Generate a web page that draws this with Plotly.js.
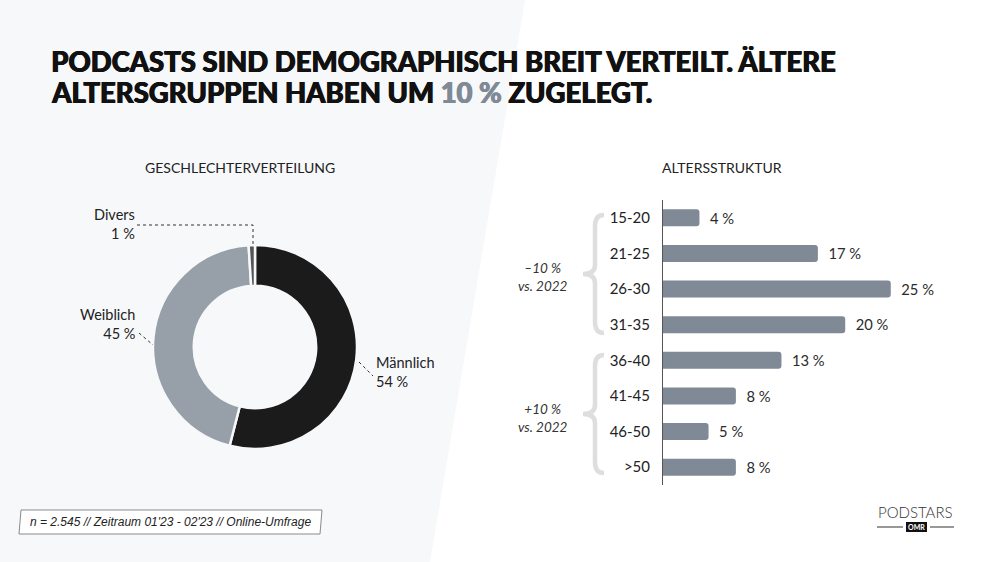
<!DOCTYPE html>
<html>
<head>
<meta charset="utf-8">
<script src="https://cdn.plot.ly/plotly-3.0.1.min.js"></script>
<style>
html,body{margin:0;padding:0;background:#fff;}
#chart{width:1000px;height:562px;}
</style>
</head>
<body>
<div id="chart"></div>
<script>
// ---- data ----
const genderLabels = ["Männlich", "Weiblich", "Divers"];
const genderValues = [54, 45, 1];
const genderColors = ["#1b1b1b", "#97a0a9", "#555555"];

const ageGroups = ["15-20", "21-25", "26-30", "31-35", "36-40", "41-45", "46-50", ">50"];
const ageValues = [4, 17, 25, 20, 13, 8, 5, 8];

const titleLine1 = "PODCASTS SIND DEMOGRAPHISCH BREIT VERTEILT. ÄLTERE";
const titleLine2 = "ALTERSGRUPPEN HABEN UM <span style='color:#7f8a96;text-shadow:0.7px 0 0 #7f8a96, -0.3px 0 0 #7f8a96'>10 %</span> ZUGELEGT.";
const groupNotes = ["–10 %<br>vs. 2022", "+10 %<br>vs. 2022"];
const footnote = "n = 2.545 // Zeitraum 01'23 - 02'23 // Online-Umfrage";

// ---- helpers (pixel -> paper) ----
const W = 1000, H = 562;
const px = x => x / W;
const py = y => 1 - y / H;
function path(cmds) {
  return cmds.map(c => {
    const l = c[0]; const nums = c.slice(1);
    const out = [];
    for (let i = 0; i < nums.length; i += 2) out.push(px(nums[i]).toFixed(5) + "," + py(nums[i + 1]).toFixed(5));
    return l + " " + out.join(" ");
  }).join(" ");
}
function brace(y0, y1) {
  const m = (y0 + y1) / 2, xb = 595, xe = 604, xt = 583;
  return path([
    ["M", xe, y0], ["Q", xb, y0, xb, y0 + 11], ["L", xb, m - 9],
    ["Q", xb, m, xt, m], ["Q", xb, m, xb, m + 9], ["L", xb, y1 - 11],
    ["Q", xb, y1, xe, y1]
  ]);
}

const FONT = "Lato, 'Noto Sans', sans-serif";
const TXT = "#222222";

const pie = {
  type: "pie",
  labels: genderLabels,
  values: genderValues,
  sort: false,
  direction: "clockwise",
  rotation: 0,
  hole: 0.6,
  marker: { colors: genderColors, line: { color: "#f7f8fa", width: 2.5 } },
  textinfo: "none",
  hoverinfo: "skip",
  showlegend: false,
  domain: { x: [px(153), px(357)], y: [py(449), py(245)] }
};

const bars = {
  type: "bar",
  orientation: "h",
  y: ageGroups,
  x: ageValues,
  marker: { color: "#7f8a96", cornerradius: 3 },
  width: 0.48,
  text: ageValues.map(v => v + " %"),
  texttemplate: "\u00a0\u00a0%{text}",
  textposition: "outside",
  cliponaxis: false,
  textfont: { family: FONT, size: 15.5, color: "#2b2b2b" },
  hoverinfo: "skip",
  showlegend: false,
  xaxis: "x",
  yaxis: "y"
};

const shapes = [
  { type: "path", layer: "below", xref: "paper", yref: "paper",
    path: path([["M", 0, 0], ["L", 525, 0], ["L", 430, 562], ["L", 0, 562]]) + " Z",
    fillcolor: "#f7f8fa", line: { width: 0 } },
  { type: "path", xref: "paper", yref: "paper", path: brace(215, 333),
    line: { color: "#dedede", width: 4.5 } },
  { type: "path", xref: "paper", yref: "paper", path: brace(355, 473),
    line: { color: "#dedede", width: 4.5 } },
  { type: "path", xref: "paper", yref: "paper",
    path: path([["M", 137, 225], ["L", 253, 225], ["L", 253, 247]]),
    line: { color: "#333", width: 1, dash: "dot" } },
  { type: "line", xref: "paper", yref: "paper", x0: px(139), y0: py(333), x1: px(153), y1: py(345),
    line: { color: "#333", width: 1, dash: "dot" } },
  { type: "line", xref: "paper", yref: "paper", x0: px(359), y0: py(362), x1: px(373), y1: py(376),
    line: { color: "#333", width: 1, dash: "dot" } },
  { type: "path", xref: "paper", yref: "paper",
    path: path([["M", 21, 510], ["L", 322, 510], ["L", 320, 534], ["L", 19, 534]]) + " Z",
    fillcolor: "#ffffff", line: { color: "#8a8a8a", width: 1 } },
  { type: "line", xref: "paper", yref: "paper", x0: px(877), y0: py(527), x1: px(903), y1: py(527),
    line: { color: "#333", width: 1 } },
  { type: "line", xref: "paper", yref: "paper", x0: px(930), y0: py(527), x1: px(954), y1: py(527),
    line: { color: "#333", width: 1 } },
  { type: "rect", xref: "paper", yref: "paper", x0: px(906), y0: py(522), x1: px(927), y1: py(532),
    fillcolor: "#111", line: { width: 0 } }
];

const titleFont = { family: FONT, size: 27.5, color: "#111", weight: 900, shadow: "0.7px 0 0 #111, -0.3px 0 0 #111" };

const annotations = [
  { text: titleLine1, x: px(49), y: py(62), xanchor: "left", yanchor: "middle", font: titleFont },
  { text: titleLine2, x: px(49), y: py(93), xanchor: "left", yanchor: "middle", font: titleFont },
  { text: "GESCHLECHTERVERTEILUNG", x: px(240), y: py(167), xanchor: "center", yanchor: "middle",
    font: { family: FONT, size: 14, color: TXT } },
  { text: "ALTERSSTRUKTUR", x: px(722), y: py(167), xanchor: "center", yanchor: "middle",
    font: { family: FONT, size: 14, color: TXT } },
  { text: genderLabels[2] + "<br>" + genderValues[2] + " %", x: px(137), y: py(224), xanchor: "right", yanchor: "middle", align: "right",
    font: { family: FONT, size: 14.5, color: TXT } },
  { text: genderLabels[1] + "<br>" + genderValues[1] + " %", x: px(137), y: py(324), xanchor: "right", yanchor: "middle", align: "right",
    font: { family: FONT, size: 14.5, color: TXT } },
  { text: genderLabels[0] + "<br>" + genderValues[0] + " %", x: px(374), y: py(372), xanchor: "left", yanchor: "middle", align: "left",
    font: { family: FONT, size: 14.5, color: TXT } },
  { text: "<i>" + groupNotes[0] + "</i>", x: px(543), y: py(277), xanchor: "center", yanchor: "middle", align: "center",
    font: { family: FONT, size: 13.5, color: "#333" } },
  { text: "<i>" + groupNotes[1] + "</i>", x: px(543), y: py(418), xanchor: "center", yanchor: "middle", align: "center",
    font: { family: FONT, size: 13.5, color: "#333" } },
  { text: "<i>" + footnote + "</i>", x: px(170), y: py(522), xanchor: "center", yanchor: "middle",
    font: { family: "'Liberation Sans Narrow', 'Liberation Sans', sans-serif", size: 12, color: "#222" } },
  { text: "PODSTARS", x: px(915), y: py(512), xanchor: "center", yanchor: "middle",
    font: { family: "Lato, sans-serif", size: 15, color: "#333", weight: 300 } },
  { text: "OMR", x: px(916.5), y: py(527), xanchor: "center", yanchor: "middle",
    font: { family: FONT, size: 7, color: "#fff", weight: 700 } }
];

const layout = {
  width: W, height: H,
  margin: { l: 0, r: 0, t: 0, b: 0 },
  paper_bgcolor: "#ffffff",
  plot_bgcolor: "rgba(0,0,0,0)",
  showlegend: false,
  hovermode: false,
  xaxis: { domain: [px(663), px(950)], range: [0, 31.5], visible: false, fixedrange: true },
  yaxis: { domain: [py(485), py(200)], type: "category", autorange: "reversed",
    range: [7.5, -0.5],
    showline: true, linecolor: "#555", linewidth: 1, ticks: "", showgrid: false, zeroline: false,
    ticklabelstandoff: 9,
    tickfont: { family: FONT, size: 15, color: TXT }, fixedrange: true },
  shapes: shapes,
  annotations: annotations.map(a => Object.assign({ xref: "paper", yref: "paper", showarrow: false }, a))
};

Plotly.newPlot("chart", [pie, bars], layout, { displayModeBar: false, staticPlot: true });
</script>
</body>
</html>
